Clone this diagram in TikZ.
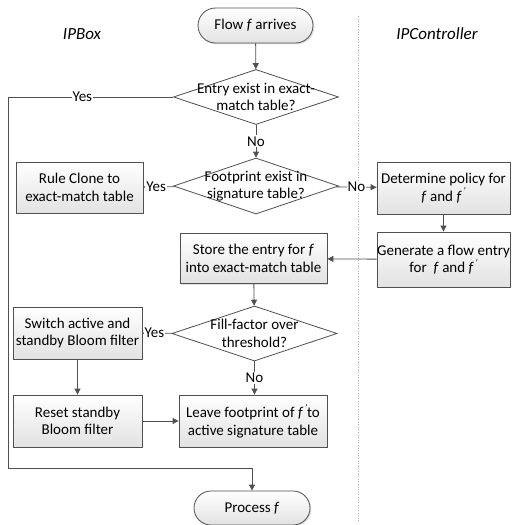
\documentclass[tikz,border=0pt]{standalone}
\usepackage{fontspec}
\setmainfont{Carlito}
\usetikzlibrary{shapes.geometric,shapes.misc,shadows,arrows.meta}
\definecolor{edge}{HTML}{505050}
\definecolor{shade}{HTML}{E2E2E2}
\tikzset{
  x=1pt, y=1pt,
  every node/.style={font=\fontsize{15}{17.5}\selectfont, text=black},
  procbox/.style={rectangle, draw=edge, line width=0.8pt, top color=white, bottom color=shade,
    drop shadow={shadow xshift=1.4pt, shadow yshift=-1.4pt, opacity=0.25},
    align=center, inner sep=0pt},
  termbox/.style={rounded rectangle, draw=edge, line width=0.8pt, top color=white, bottom color=shade,
    drop shadow={shadow xshift=1.4pt, shadow yshift=-1.4pt, opacity=0.25},
    inner sep=0pt},
  decide/.style={diamond, draw=edge, line width=0.8pt, fill=white, inner sep=0pt},
  flow/.style={draw=edge, line width=0.8pt, -{Triangle[length=6pt, width=6pt]}},
  plain/.style={draw=edge, line width=0.8pt},
  tag/.style={fill=white, inner sep=1pt},
  lane/.style={font=\fontsize{17}{19}\selectfont\itshape},
}
% f with a prime, kept clear of the italic overhang
\newcommand{\fp}{\textit{f\/}\kern1.2pt\raisebox{0.9ex}{\fontsize{10}{10}\selectfont\textit{\char"2019}}}
\begin{document}
\begin{tikzpicture}
\useasboundingbox (0,0) rectangle (517,-525);

% swimlane divider and lane titles
\coordinate (laneTop) at (358,-16);
\coordinate (laneBot) at (358,-521);
\draw[gray!60, dotted, line width=0.6pt] (laneTop) -- (laneBot);
\node[lane] (ipbox) at (82,-34) {IPBox};
\node[lane] (ipctl) at (437,-34) {IPController};

% terminators
\node[termbox, minimum width=115pt, minimum height=35pt] (start) at (255.5,-25.5) {Flow \textit{f} arrives};
\node[termbox, minimum width=116pt, minimum height=34pt] (finish) at (252,-508) {Process \textit{f}};

% decisions (the diamond outline, with its text laid over it)
\node[decide, minimum width=165pt, minimum height=55pt] (d1) at (256,-97) {};
\node[align=center] (d1t) at (d1) {Entry exist in exact-\\match table?};
\node[decide, minimum width=165pt, minimum height=56pt] (d2) at (256,-186) {};
\node[align=center] (d2t) at (d2) {Footprint exist in\\signature table?};
\node[decide, minimum width=165pt, minimum height=55pt] (d3) at (254.5,-333.5) {};
\node[align=center] (d3t) at (d3) {Fill-factor over\\threshold?};

% process steps
\node[procbox, minimum width=127pt, minimum height=51pt] (clone) at (79.5,-187.5) {Rule Clone to\\exact-match table};
\node[procbox, minimum width=133pt, minimum height=52pt] (policy) at (443.5,-188) {Determine policy for\\\textit{f} and \fp};
\node[procbox, minimum width=133pt, minimum height=55pt] (gen) at (443.5,-259.5) {Generate a flow entry\\for \ \textit{f} and \fp};
\node[procbox, minimum width=147pt, minimum height=50pt] (store) at (253.5,-258.5) {Store the entry for \textit{f}\\into exact-match table};
\node[procbox, minimum width=129pt, minimum height=52pt] (switch) at (77.5,-333) {Switch active and\\standby Bloom filter};
\node[procbox, minimum width=129pt, minimum height=52pt] (reset) at (77.5,-421) {Reset standby\\Bloom filter};
\node[procbox, minimum width=148pt, minimum height=52pt] (leave) at (253,-421) {Leave footprint of \fp to\\active signature table};

% connectors
\draw[flow] (start) -- (d1);
\draw[flow] (d1) -- node[tag] (no1) {No} (d2);
\draw[flow] (d2) -- node[tag, pos=0.6] (yes2) {Yes} (clone);
\draw[flow] (d2) -- node[tag, pos=0.5] (no2) {No} (policy);
\draw[flow] (policy) -- (gen);
\draw[flow] (gen) -- (store);
\draw[flow] (store) -- (d3);
\draw[flow] (d3) -- node[tag, pos=0.6] (yes3) {Yes} (switch);
\draw[flow] (d3) -- node[tag] (no3) {No} (leave.north -| d3.south);
\draw[flow] (switch) -- (reset);
\draw[flow] (reset) -- (leave);

% bypass when the entry already exists
\coordinate (byTop) at (8,-97);
\coordinate (byBot) at (8,-468);
\draw[plain] (d1.west) -- node[tag, pos=0.55] (yes1) {Yes} (byTop) -- (byBot);
\draw[flow] (byBot) -| (finish.north);
\end{tikzpicture}
\end{document}
